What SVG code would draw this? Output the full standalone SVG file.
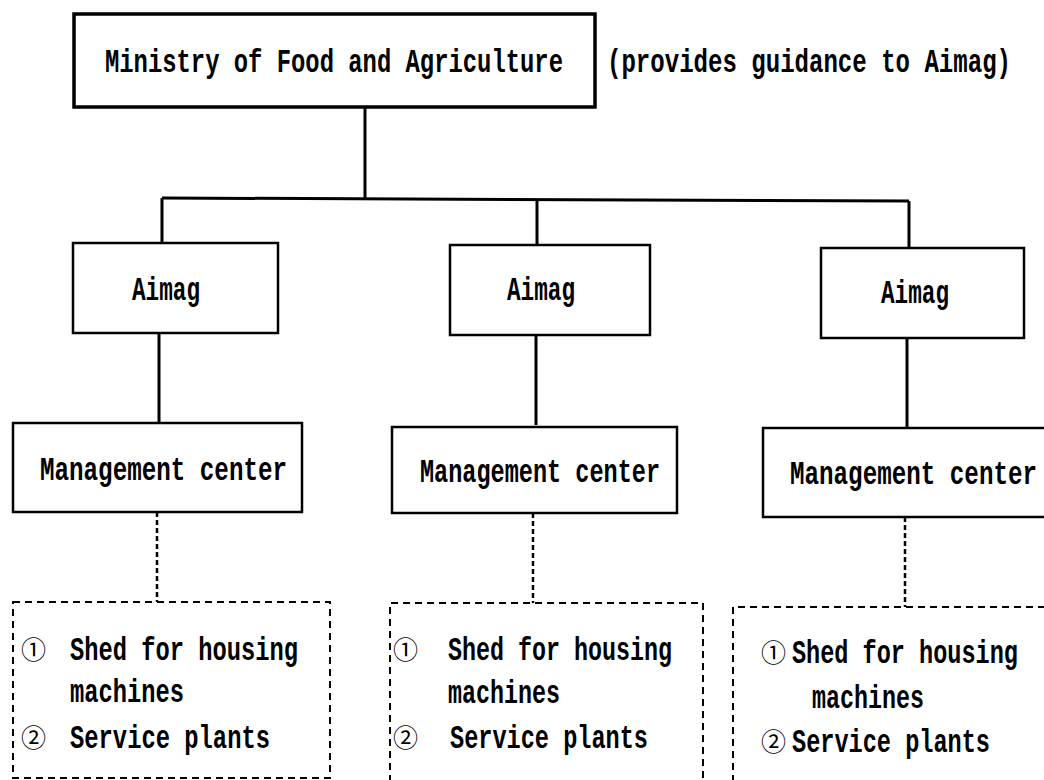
<svg xmlns="http://www.w3.org/2000/svg" width="1044" height="780" viewBox="0 0 1044 780">
<style>
.bg{fill:#fff}
.box{fill:none;stroke:#000;stroke-width:2.5}
.thick{fill:none;stroke:#000;stroke-width:3.5}
.dbox{fill:none;stroke:#000;stroke-width:2;stroke-dasharray:7 5}
.ln{fill:none;stroke:#000;stroke-width:3}
.dl{fill:none;stroke:#000;stroke-width:2.5;stroke-dasharray:5 3}
.t{font-family:"Liberation Mono","DejaVu Sans Mono",monospace;font-weight:bold;font-size:24px;fill:#000}
.c{font-family:"Noto Sans CJK JP","DejaVu Sans",sans-serif;font-size:25px;fill:#000}
</style>
<rect class="bg" x="0" y="0" width="1044" height="780"/>
<g id="connectors">
<path class="ln" d="M365 107 V198"/>
<path class="ln" d="M162 198 L909 201"/>
<path class="ln" d="M162 198 V243"/>
<path class="ln" d="M537 199.5 V245"/>
<path class="ln" d="M909 201 V248"/>
<path class="ln" d="M159 333 V423"/>
<path class="ln" d="M536 335 V425"/>
<path class="ln" d="M907 338 V428"/>
<path class="dl" d="M157 512 V602"/>
<path class="dl" d="M533 513 V603"/>
<path class="dl" d="M905 517 V607"/>
</g>
<g id="ministry">
<rect class="thick" x="74" y="14" width="521" height="93"/>
<text class="t" transform="translate(105 72) scale(1 1.4)" textLength="458" lengthAdjust="spacingAndGlyphs">Ministry of Food and Agriculture</text>
</g>
<g id="note">
<text class="t" transform="translate(607 72) scale(1 1.4)" textLength="404" lengthAdjust="spacingAndGlyphs">(provides guidance to Aimag)</text>
</g>
<g id="aimag1">
<rect class="box" x="73" y="243" width="205" height="90"/>
<text class="t" transform="translate(132 300) scale(1 1.4)" textLength="68" lengthAdjust="spacingAndGlyphs">Aimag</text>
</g>
<g id="aimag2">
<rect class="box" x="450" y="245" width="200" height="90"/>
<text class="t" transform="translate(507 300) scale(1 1.4)" textLength="68" lengthAdjust="spacingAndGlyphs">Aimag</text>
</g>
<g id="aimag3">
<rect class="box" x="821" y="248" width="203" height="90"/>
<text class="t" transform="translate(881 303) scale(1 1.4)" textLength="68" lengthAdjust="spacingAndGlyphs">Aimag</text>
</g>
<g id="mc1">
<rect class="box" x="13" y="423" width="289" height="89"/>
<text class="t" transform="translate(40 480) scale(1 1.4)" textLength="247" lengthAdjust="spacingAndGlyphs">Management center</text>
</g>
<g id="mc2">
<rect class="box" x="392" y="427" width="285" height="86"/>
<text class="t" transform="translate(420 482) scale(1 1.4)" textLength="240" lengthAdjust="spacingAndGlyphs">Management center</text>
</g>
<g id="mc3">
<path class="box" d="M1046 428 H763 V517 H1046"/>
<text class="t" transform="translate(790 484) scale(1 1.4)" textLength="247" lengthAdjust="spacingAndGlyphs">Management center</text>
</g>
<g id="fac1">
<rect class="dbox" x="13" y="602" width="317" height="176"/>
<text class="c" x="21" y="659">①</text>
<text class="t" transform="translate(70 660) scale(1 1.4)" textLength="228" lengthAdjust="spacingAndGlyphs">Shed for housing</text>
<text class="t" transform="translate(70 702) scale(1 1.4)" textLength="114" lengthAdjust="spacingAndGlyphs">machines</text>
<text class="c" x="21" y="747">②</text>
<text class="t" transform="translate(70 748) scale(1 1.4)" textLength="200" lengthAdjust="spacingAndGlyphs">Service plants</text>
</g>
<g id="fac2">
<path class="dbox" d="M390 782 V603 H703 V782"/>
<text class="c" x="393" y="659">①</text>
<text class="t" transform="translate(448 660) scale(1 1.4)" textLength="224" lengthAdjust="spacingAndGlyphs">Shed for housing</text>
<text class="t" transform="translate(448 703) scale(1 1.4)" textLength="112" lengthAdjust="spacingAndGlyphs">machines</text>
<text class="c" x="393" y="747">②</text>
<text class="t" transform="translate(450 748) scale(1 1.4)" textLength="198" lengthAdjust="spacingAndGlyphs">Service plants</text>
</g>
<g id="fac3">
<path class="dbox" d="M733 782 V607 H1046"/>
<text class="c" x="761" y="662">①</text>
<text class="t" transform="translate(792 663) scale(1 1.4)" textLength="226" lengthAdjust="spacingAndGlyphs">Shed for housing</text>
<text class="t" transform="translate(812 708) scale(1 1.4)" textLength="112" lengthAdjust="spacingAndGlyphs">machines</text>
<text class="c" x="761" y="751">②</text>
<text class="t" transform="translate(792 752) scale(1 1.4)" textLength="198" lengthAdjust="spacingAndGlyphs">Service plants</text>
</g>
</svg>
